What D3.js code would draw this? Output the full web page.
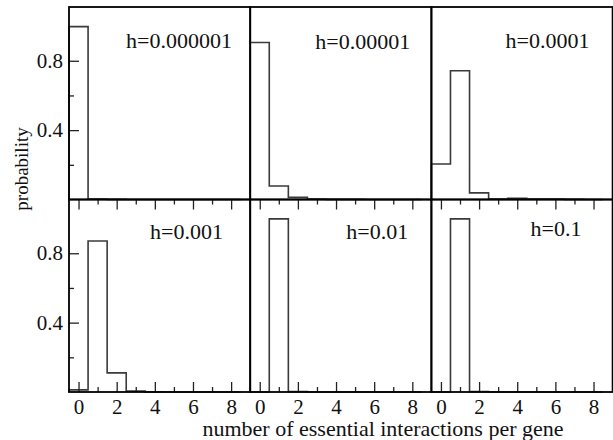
<!DOCTYPE html>
<html>
<head>
<meta charset="utf-8">
<script src="https://cdn.jsdelivr.net/npm/d3@7"></script>
<style>
  body { margin: 0; background: #fff; }
  svg text { font-family: "Liberation Serif", "Times New Roman", serif !important; }
</style>
</head>
<body>
<div class="chart"></div>
<script>
// bins: number of essential interactions per gene
var bins = [0, 1, 2, 3, 4, 5, 6, 7, 8];

// panel labels
var labels = ["h=0.000001", "h=0.00001", "h=0.0001", "h=0.001", "h=0.01", "h=0.1"];

// probability of each bin, one array per panel
var p1 = [0.997, 0.003, 0.001, 0, 0, 0, 0, 0, 0];
var p2 = [0.905, 0.078, 0.012, 0.003, 0.001, 0.001, 0, 0, 0];
var p3 = [0.205, 0.742, 0.038, 0.002, 0.007, 0.002, 0.003, 0.001, 0];
var p4 = [0.012, 0.871, 0.110, 0.005, 0.001, 0, 0, 0, 0];
var p5 = [0, 0.998, 0.002, 0, 0, 0, 0, 0, 0];
var p6 = [0, 0.998, 0.002, 0, 0, 0, 0, 0, 0];
var series = [p1, p2, p3, p4, p5, p6];

// tick values
var xMajor = [0, 2, 4, 6, 8];
var xMinor = [1, 3, 5, 7];
var yMajor = [0.4, 0.8];
var yMinor = [0.2, 0.6];

//Layout of the panel grid.
var gridLeft = 69, gridTop = 7;
var panelW = 181.2, panelH = 192.5;
// right end of each panel label, and its baseline below the panel top
var labelEnd = [163, 160, 158, 154, 158, 150];
var labelDrop = [41, 42, 41, 39, 39, 36];

var svg = d3.select(".chart").append("svg")
  .attr("width", 613)
  .attr("height", 440);

var x = d3.scaleLinear().domain([-0.5, 9]).range([0, panelW]);
var y = d3.scaleLinear().domain([0, 1.11]).range([panelH, 0]);

//Step outline of a histogram.
function stepPath(vals) {
  var pts = [[x(-0.5), y(0)]];
  bins.forEach(function(b, i) {
    pts.push([x(b - 0.5), y(vals[i])]);
    pts.push([x(b + 0.5), y(vals[i])]);
  });
  pts.push([x(bins[bins.length - 1] + 0.5), y(0)]);
  return d3.line()(pts);
}

series.forEach(function(vals, i) {
  var col = i % 3, row = Math.floor(i / 3);
  var g = svg.append("g")
    .attr("transform", "translate(" + (gridLeft + col * panelW) + "," + (gridTop + row * panelH) + ")");

  g.append("path")
    .attr("d", stepPath(vals))
    .attr("fill", "none")
    .attr("stroke", "#3a3a3a")
    .attr("stroke-width", 1.6);

  g.append("text")
    .attr("x", labelEnd[i])
    .attr("y", labelDrop[i])
    .attr("text-anchor", "end")
    .attr("font-size", 22)
    .attr("fill", "#111")
    .text(labels[i]);

  if (row == 1) {
    // bottom axis, ticks pointing up
    var xb = g.append("g").attr("transform", "translate(0," + panelH + ")")
      .call(d3.axisBottom(x).tickValues(xMajor).tickSize(-10).tickPadding(7));
    g.append("g").attr("transform", "translate(0," + panelH + ")")
      .call(d3.axisBottom(x).tickValues(xMinor).tickSize(-5).tickFormat(""));
    // top edge, ticks pointing down
    g.append("g")
      .call(d3.axisTop(x).tickValues(xMajor).tickSize(-10).tickFormat(""));
    g.append("g")
      .call(d3.axisTop(x).tickValues(xMinor).tickSize(-5).tickFormat(""));
    xb.selectAll("text").attr("font-size", 21).attr("fill", "#111");
  }

  if (col == 0) {
    var ya = g.append("g")
      .call(d3.axisLeft(y).tickValues(yMajor).tickSize(-10).tickPadding(6)
        .tickFormat(d3.format(".1f")));
    g.append("g")
      .call(d3.axisLeft(y).tickValues(yMinor).tickSize(-5).tickFormat(""));
    ya.selectAll("text").attr("font-size", 21).attr("fill", "#111");
  }

  g.selectAll(".domain").remove();
  g.selectAll(".tick line").attr("stroke", "#222").attr("stroke-width", 1.3);

  g.append("rect")
    .attr("width", panelW)
    .attr("height", panelH)
    .attr("fill", "none")
    .attr("stroke", "#000")
    .attr("stroke-width", 1.8);
});

//Axis titles.
svg.append("text")
  .attr("transform", "translate(28,169) rotate(-90)")
  .attr("text-anchor", "middle")
  .attr("font-size", 19)
  .attr("fill", "#111")
  .text("probability");

svg.append("text")
  .attr("x", 383)
  .attr("y", 436)
  .attr("text-anchor", "middle")
  .attr("font-size", 22)
  .attr("fill", "#111")
  .text("number of essential interactions per gene");
</script>
</body>
</html>
